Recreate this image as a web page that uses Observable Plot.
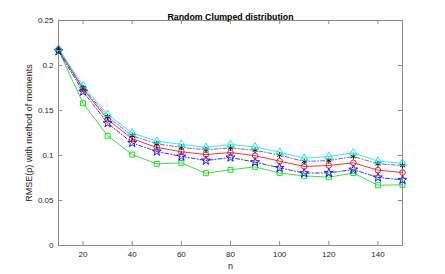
<!DOCTYPE html>
<html>
<head>
<meta charset="utf-8">
<script src="https://cdn.jsdelivr.net/npm/d3@7"></script>
<script src="https://cdn.jsdelivr.net/npm/@observablehq/plot@0.6"></script>
<style>
  html, body { margin: 0; padding: 0; background: #fff; }
  svg { display: block; }
</style>
</head>
<body>
<div id="chart"></div>
<script>
const titleText = "Random Clumped distribution";
const xLabel = "n";
const yLabel = "RMSE(ρ) with method of moments";
const nValues = [10, 20, 30, 40, 50, 60, 70, 80, 90, 100, 110, 120, 130, 140, 150];
const xTicks = [20, 40, 60, 80, 100, 120, 140];
const yTicks = [0, 0.05, 0.1, 0.15, 0.2, 0.25];
const cyanSeries  = [0.219, 0.1775, 0.1456, 0.125, 0.1159, 0.1125, 0.109, 0.1122, 0.1095, 0.1037, 0.097, 0.0989, 0.103, 0.0937, 0.0915];
const blackSeries = [0.2175, 0.175, 0.143, 0.122, 0.113, 0.109, 0.1063, 0.1085, 0.1058, 0.1004, 0.0933, 0.0944, 0.0989, 0.0907, 0.0889];
const redSeries   = [0.2175, 0.174, 0.140, 0.1185, 0.109, 0.1042, 0.101, 0.1033, 0.0998, 0.0937, 0.0878, 0.0889, 0.0919, 0.0837, 0.0811];
const blueSeries  = [0.216, 0.171, 0.136, 0.114, 0.1044, 0.099, 0.0944, 0.0978, 0.0926, 0.0863, 0.0804, 0.0807, 0.0844, 0.0756, 0.073];
const greenSeries = [0.217, 0.158, 0.122, 0.101, 0.0907, 0.0917, 0.0803, 0.0841, 0.0874, 0.0804, 0.0774, 0.0759, 0.0804, 0.067, 0.0674];

const toRows = (vals) => nValues.map((n, i) => ({n, v: vals[i]}));
const series = [
  {rows: toRows(greenSeries), line: "#00e000", marker: "#00e000", symbol: "square", dash: null},
  {rows: toRows(blueSeries),  line: "#0000ff", marker: "#0000ff", symbol: "star", dash: "4,2,1,2"},
  {rows: toRows(redSeries),   line: "#ff0000", marker: "#ff0000", symbol: "circle", dash: null},
  {rows: toRows(blackSeries), line: "#7e2f8e", marker: "#000000", symbol: "asterisk", dash: "4,2,1,2"},
  {rows: toRows(cyanSeries),  line: "#00e8e8", marker: "#00e8e8", symbol: "triangle", dash: null}
];

const marks = [];
for (const s of series) {
  marks.push(Plot.line(s.rows, {x: "n", y: "v", stroke: s.line, strokeWidth: 0.8, strokeDasharray: s.dash}));
}
for (const s of series) {
  marks.push(Plot.dot(s.rows, {x: "n", y: "v", symbol: s.symbol, stroke: s.marker, fill: "none", r: 2.8, strokeWidth: 0.9}));
}

const axisColor = "#8c8c8c";
const chart = Plot.plot({
  width: 445,
  height: 274,
  marginLeft: 58,
  marginRight: 43,
  marginTop: 20,
  marginBottom: 29,
  style: {fontFamily: "'Liberation Sans', Arial, sans-serif", fontSize: "8px", background: "#fff", color: "#262626"},
  x: {domain: [10, 150]},
  y: {domain: [0, 0.25]},
  marks: [
    Plot.frame({stroke: axisColor}),
    Plot.ruleX(xTicks, {x: d => d, y1: 0, y2: 0.0045, stroke: axisColor}),
    Plot.ruleX(xTicks, {x: d => d, y1: 0.2455, y2: 0.25, stroke: axisColor}),
    Plot.ruleY(yTicks, {y: d => d, x1: 10, x2: 11.7, stroke: axisColor}),
    Plot.ruleY(yTicks, {y: d => d, x1: 148.3, x2: 150, stroke: axisColor}),
    Plot.axisX({ticks: xTicks, tickSize: 0, tickPadding: 6, label: null, fill: "#262626"}),
    Plot.axisY({ticks: yTicks, tickSize: 0, tickPadding: 5, tickFormat: d => String(d), label: null, fill: "#262626"}),
    Plot.text([xLabel], {frameAnchor: "bottom", lineAnchor: "middle", dy: 21, text: d => d, fontSize: 9, fill: "#262626"}),
    Plot.text([yLabel], {frameAnchor: "left", textAnchor: "middle", lineAnchor: "middle", dx: -29, rotate: -90, text: d => d, fontSize: 9, fill: "#262626"}),
    ...marks,
    Plot.text([titleText], {frameAnchor: "top", dy: -7, text: d => d, fontWeight: "bold", fontSize: 8.8, fill: "#000"})
  ]
});
document.getElementById("chart").appendChild(chart);
</script>
</body>
</html>
